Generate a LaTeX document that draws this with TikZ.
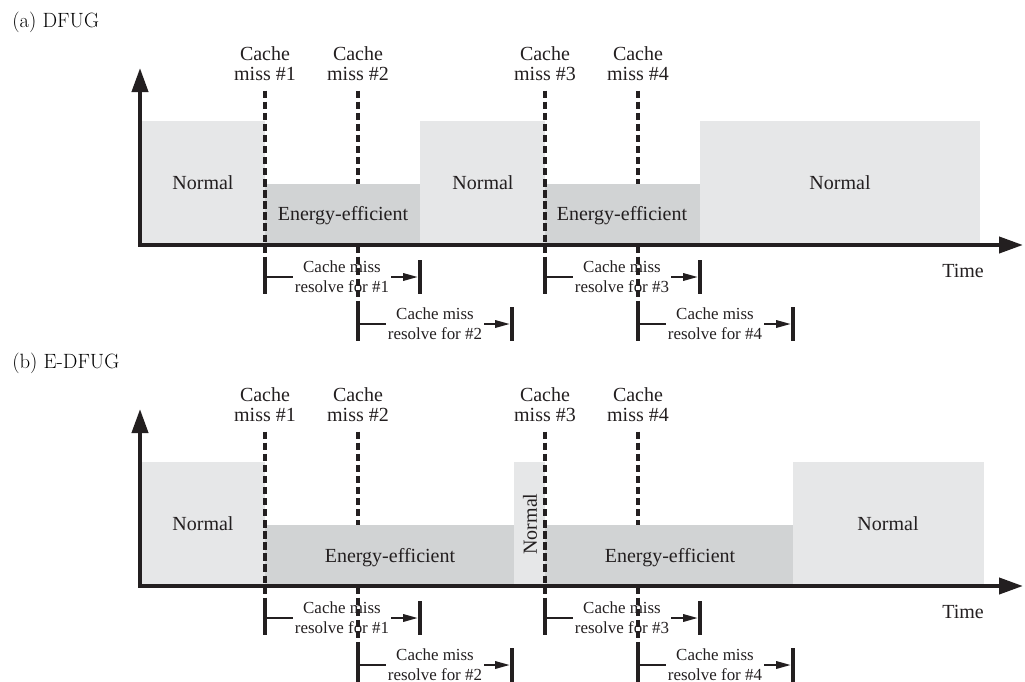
\documentclass[tikz,border=0pt]{standalone}
\usepackage{fontspec}
\usepackage{tikz}
\usetikzlibrary{arrows.meta}
\newfontfamily\tms{Liberation Serif}
\definecolor{ink}{RGB}{35,31,32}
\definecolor{nrmgray}{RGB}{230,231,232}
\definecolor{enggray}{RGB}{209,211,212}

\begin{document}
\begin{tikzpicture}[
    x=0.75pt, y=-0.75pt,
    %% panel title
    ttl/.style   = {anchor=base west, inner sep=0pt,
                    font=\fontsize{15.5}{17}\selectfont},
    %% mode label inside a box
    lbl/.style   = {anchor=base, inner sep=0pt, text=ink,
                    font=\tms\fontsize{15}{18}\selectfont},
    %% cache miss label above the plot
    cmlbl/.style = {align=center, inner sep=1pt, text=ink,
                    font=\tms\fontsize{15}{15}\selectfont},
    %% resolve label between the bars
    rlbl/.style  = {align=center, inner sep=1.5pt, text=ink,
                    font=\tms\fontsize{12.7}{15}\selectfont},
    %% interval bar
    bar/.style   = {rectangle, fill=ink, inner sep=0pt,
                    minimum width=2.8pt, minimum height=25pt},
    nrm/.style   = {fill=nrmgray},
    eng/.style   = {fill=enggray},
    miss/.style  = {draw=ink, line width=2.5pt, dash pattern=on 5.5pt off 2.8pt,
                    shorten <=6pt},
    rline/.style = {draw=ink, line width=1.6pt},
    rarr/.style  = {draw=ink, line width=1.6pt,
                    -{Triangle[length=11pt,width=5.5pt]}},
    axis/.style  = {draw=ink, line width=3pt, line join=miter,
                    {Triangle[length=18pt,width=12pt]}-{Triangle[length=18pt,width=12pt]}},
]
\useasboundingbox (0,0) rectangle (1025,682);

%% =========================== (a) DFUG ===========================
\node[ttl] (ttla) at (12,27) {(a) DFUG};

%% cache miss labels
\node[cmlbl] (cma1) at (265,64) {Cache\\miss \#1};
\node[cmlbl] (cma2) at (358,64) {Cache\\miss \#2};
\node[cmlbl] (cma3) at (545,64) {Cache\\miss \#3};
\node[cmlbl] (cma4) at (638,64) {Cache\\miss \#4};

%% resolve bars
\node[bar] (bsa1) at (265,277) {};
\node[bar] (bea1) at (420,277) {};
\node[bar] (bsa2) at (358,324) {};
\node[bar] (bea2) at (512,324) {};
\node[bar] (bsa3) at (545,277) {};
\node[bar] (bea3) at (700,277) {};
\node[bar] (bsa4) at (638,324) {};
\node[bar] (bea4) at (793,324) {};

%% misses that fall inside a box (behind)
\draw[miss] (cma2.south) -- (bsa2.north);
\draw[miss] (cma4.south) -- (bsa4.north);

%% mode boxes
\fill[nrm] (142,121) rectangle (265,245);
\fill[eng] (265,184) rectangle (420,245);
\fill[nrm] (420,121) rectangle (545,245);
\fill[eng] (545,184) rectangle (700,245);
\fill[nrm] (700,121) rectangle (980,245);

\node[lbl] (nrma1) at (203,189) {Normal};
\node[lbl] (enga1) at (343,220) {Energy-efficient};
\node[lbl] (nrma2) at (483,189) {Normal};
\node[lbl] (enga2) at (622,220) {Energy-efficient};
\node[lbl] (nrma3) at (840,189) {Normal};

%% misses on the box edges (in front)
\draw[miss] (cma1.south) -- (bsa1.north);
\draw[miss] (cma3.south) -- (bsa3.north);

%% axes
\coordinate (ya) at (140,68);
\coordinate (oa) at (140,245);
\coordinate (xa) at (1023,245);
\draw[axis] (ya) -- (oa) -- (xa);
\node[lbl] (tma) at (963,277) {Time};

%% resolve intervals
\node[rlbl] (rsa1) at (342,277) {Cache miss\\resolve for \#1};
\node[rlbl] (rsa2) at (435,324) {Cache miss\\resolve for \#2};
\node[rlbl] (rsa3) at (622,277) {Cache miss\\resolve for \#3};
\node[rlbl] (rsa4) at (715,324) {Cache miss\\resolve for \#4};

\draw[rline] (bsa1) -- (rsa1);  \draw[rarr] (rsa1) -- (bea1);
\draw[rline] (bsa2) -- (rsa2);  \draw[rarr] (rsa2) -- (bea2);
\draw[rline] (bsa3) -- (rsa3);  \draw[rarr] (rsa3) -- (bea3);
\draw[rline] (bsa4) -- (rsa4);  \draw[rarr] (rsa4) -- (bea4);

%% ========================== (b) E-DFUG ==========================
\node[ttl] (ttlb) at (12,368) {(b) E-DFUG};

%% cache miss labels
\node[cmlbl] (cmb1) at (265,405) {Cache\\miss \#1};
\node[cmlbl] (cmb2) at (358,405) {Cache\\miss \#2};
\node[cmlbl] (cmb3) at (545,405) {Cache\\miss \#3};
\node[cmlbl] (cmb4) at (638,405) {Cache\\miss \#4};

%% resolve bars
\node[bar] (bsb1) at (265,618) {};
\node[bar] (beb1) at (420,618) {};
\node[bar] (bsb2) at (358,665) {};
\node[bar] (beb2) at (512,665) {};
\node[bar] (bsb3) at (545,618) {};
\node[bar] (beb3) at (700,618) {};
\node[bar] (bsb4) at (638,665) {};
\node[bar] (beb4) at (793,665) {};

%% misses that fall inside a box (behind)
\draw[miss] (cmb2.south) -- (bsb2.north);
\draw[miss] (cmb4.south) -- (bsb4.north);

%% mode boxes
\fill[nrm] (142,462) rectangle (265,586);
\fill[eng] (265,525) rectangle (514,586);
\fill[nrm] (514,462) rectangle (545,586);
\fill[eng] (545,525) rectangle (793,586);
\fill[nrm] (793,462) rectangle (984,586);

\node[lbl] (nrmb1) at (203,530) {Normal};
\node[lbl] (engb1) at (390,562) {Energy-efficient};
\node[lbl, anchor=center, rotate=90] (nrmb2) at (530,524) {Normal};
\node[lbl] (engb2) at (670,562) {Energy-efficient};
\node[lbl] (nrmb3) at (888,530) {Normal};

%% misses on the box edges (in front)
\draw[miss] (cmb1.south) -- (bsb1.north);
\draw[miss] (cmb3.south) -- (bsb3.north);

%% axes
\coordinate (yb) at (140,409);
\coordinate (ob) at (140,586);
\coordinate (xb) at (1023,586);
\draw[axis] (yb) -- (ob) -- (xb);
\node[lbl] (tmb) at (963,618) {Time};

%% resolve intervals
\node[rlbl] (rsb1) at (342,618) {Cache miss\\resolve for \#1};
\node[rlbl] (rsb2) at (435,665) {Cache miss\\resolve for \#2};
\node[rlbl] (rsb3) at (622,618) {Cache miss\\resolve for \#3};
\node[rlbl] (rsb4) at (715,665) {Cache miss\\resolve for \#4};

\draw[rline] (bsb1) -- (rsb1);  \draw[rarr] (rsb1) -- (beb1);
\draw[rline] (bsb2) -- (rsb2);  \draw[rarr] (rsb2) -- (beb2);
\draw[rline] (bsb3) -- (rsb3);  \draw[rarr] (rsb3) -- (beb3);
\draw[rline] (bsb4) -- (rsb4);  \draw[rarr] (rsb4) -- (beb4);

\end{tikzpicture}
\end{document}
